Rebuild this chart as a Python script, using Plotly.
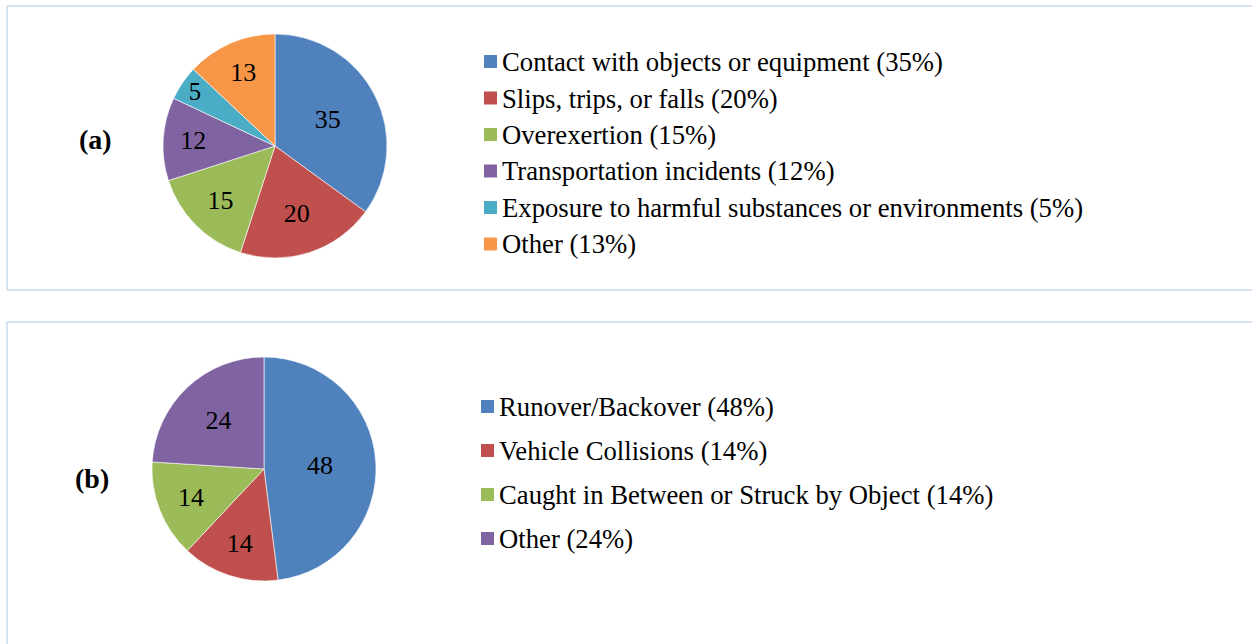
import plotly.graph_objects as go

W, H = 1252, 644

# panel (a)
labels_a = ["Contact with objects or equipment", "Slips, trips, or falls", "Overexertion",
            "Transportation incidents", "Exposure to harmful substances or environments", "Other"]
values_a = [35, 20, 15, 12, 5, 13]
colors_a = ["#4F81BD", "#C0504D", "#9BBB59", "#8064A2", "#4BACC6", "#F79646"]

# panel (b)
labels_b = ["Runover/Backover", "Vehicle Collisions", "Caught in Between or Struck by Object", "Other"]
values_b = [48, 14, 14, 24]
colors_b = ["#4F81BD", "#C0504D", "#9BBB59", "#8064A2"]

FONT = "Liberation Serif, Times New Roman, serif"
BORDER = "#D6E3F3"


def px_x(x):
    return x / W


def px_y(y):
    return 1 - y / H


fig = go.Figure()

# pies: (center x, center y, radius) in pixels
for labels, values, colors, (cx, cy, r) in [
    (labels_a, values_a, colors_a, (275, 146, 112)),
    (labels_b, values_b, colors_b, (264, 469, 112)),
]:
    fig.add_trace(go.Pie(
        labels=labels,
        values=values,
        sort=False,
        direction="clockwise",
        rotation=0,
        textinfo="value",
        textposition="inside",
        insidetextorientation="horizontal",
        textfont=dict(family=FONT, size=26, color="black"),
        marker=dict(colors=colors, line=dict(color="white", width=0.6)),
        domain=dict(x=[px_x(cx - r), px_x(cx + r)], y=[px_y(cy + r), px_y(cy - r)]),
        showlegend=False,
        hoverinfo="label+value",
    ))

shapes = []
annotations = []

# panel borders
shapes.append(dict(type="rect", xref="paper", yref="paper", x0=px_x(7), x1=px_x(1262),
                   y0=px_y(290), y1=px_y(6), line=dict(color=BORDER, width=2)))
shapes.append(dict(type="rect", xref="paper", yref="paper", x0=px_x(7), x1=px_x(1262),
                   y0=px_y(660), y1=px_y(322), line=dict(color=BORDER, width=2)))

# manual legends: (square left x, first row y, row gap)
for labels, values, colors, (lx, ly, gap) in [
    (labels_a, values_a, colors_a, (484, 62, 36.5)),
    (labels_b, values_b, colors_b, (481, 407, 44)),
]:
    for i, (lab, val, col) in enumerate(zip(labels, values, colors)):
        y = ly + i * gap
        shapes.append(dict(type="rect", xref="paper", yref="paper",
                           x0=px_x(lx), x1=px_x(lx + 13), y0=px_y(y + 6), y1=px_y(y - 7),
                           fillcolor=col, line=dict(width=0)))
        annotations.append(dict(xref="paper", yref="paper", x=px_x(lx + 16), y=px_y(y),
                                xanchor="left", yanchor="middle", showarrow=False,
                                text=f"{lab} ({val}%)",
                                font=dict(family=FONT, size=26.7, color="black")))

# panel tags
annotations.append(dict(xref="paper", yref="paper", x=px_x(95), y=px_y(140), showarrow=False,
                        xanchor="center", yanchor="middle",
                        text="<b>(a)</b>", font=dict(family=FONT, size=28, color="black")))
annotations.append(dict(xref="paper", yref="paper", x=px_x(92), y=px_y(478), showarrow=False,
                        xanchor="center", yanchor="middle",
                        text="<b>(b)</b>", font=dict(family=FONT, size=28, color="black")))

fig.update_layout(
    width=W, height=H,
    margin=dict(l=0, r=0, t=0, b=0),
    paper_bgcolor="white",
    plot_bgcolor="white",
    shapes=shapes,
    annotations=annotations,
)

fig.write_html("out.html", config={"displayModeBar": False},
               post_script="document.body.style.margin='0';")
